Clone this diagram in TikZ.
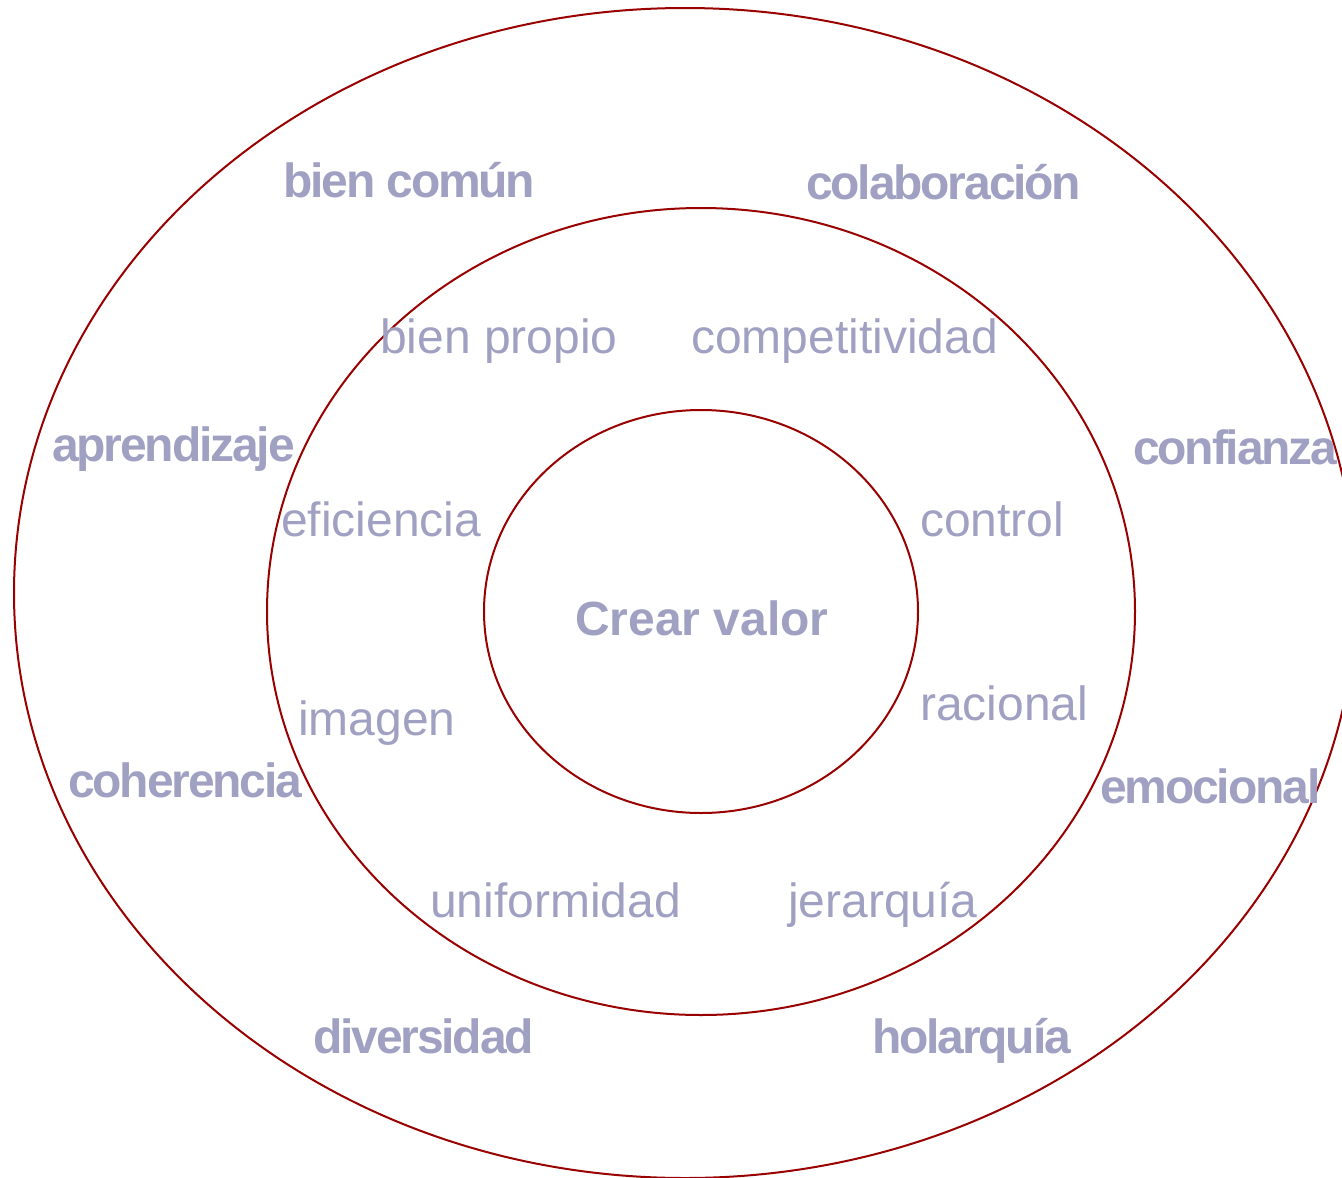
\documentclass[tikz,border=0pt]{standalone}
\usepackage{fontspec}
\setmainfont{Liberation Sans}
\newfontfamily\tightfam{Liberation Sans}[LetterSpace=-4.5]
\definecolor{ringred}{RGB}{153,0,0}
\definecolor{wordblue}{RGB}{160,161,194}
\tikzset{
  ring/.style={draw=ringred, line width=2pt},
  inword/.style={anchor=base west, inner sep=0pt, text=wordblue, font=\fontsize{48}{58}\selectfont},
  outword/.style={anchor=base west, inner sep=0pt, text=wordblue, font=\tightfam\bfseries\fontsize{48}{58}\selectfont},
  coreword/.style={anchor=base west, inner sep=0pt, text=wordblue, font=\bfseries\fontsize{48}{58}\selectfont}
}
\begin{document}
\begin{tikzpicture}[x=1pt,y=-1pt]
\useasboundingbox (0,0) rectangle (1342,1178);
\fill[white] (0,0) rectangle (1342,1178);
\draw[ring] (685,593) ellipse [x radius=671, y radius=585];
\draw[ring] (701,611.5) ellipse [x radius=434, y radius=403.5];
\draw[ring] (701,611.5) ellipse [x radius=217, y radius=201.5];

\node[coreword] (core) at (575,635) {Crear valor};

\node[inword] (bpropio) at (380,353) {bien propio};
\node[inword] (compet) at (691,353) {competitividad};
\node[inword] (efic) at (281,536) {eficiencia};
\node[inword] (control) at (920,536) {control};
\node[inword] (racional) at (920,720) {racional};
\node[inword] (imagen) at (298,735) {imagen};
\node[inword] (uniform) at (430,917) {uniformidad};
\node[inword] (jerarq) at (788,917) {jerarquía};

\node[outword] (bcomun) at (283,197) {bien común};
\node[outword] (colab) at (806,199) {colaboración};
\node[outword] (aprend) at (52,461) {aprendizaje};
\node[outword] (confi) at (1133,464) {confianza};
\node[outword] (coher) at (68,797) {coherencia};
\node[outword] (emoc) at (1100,803) {emocional};
\node[outword] (divers) at (313,1053) {diversidad};
\node[outword] (holarq) at (872,1053) {holarquía};
\end{tikzpicture}
\end{document}
